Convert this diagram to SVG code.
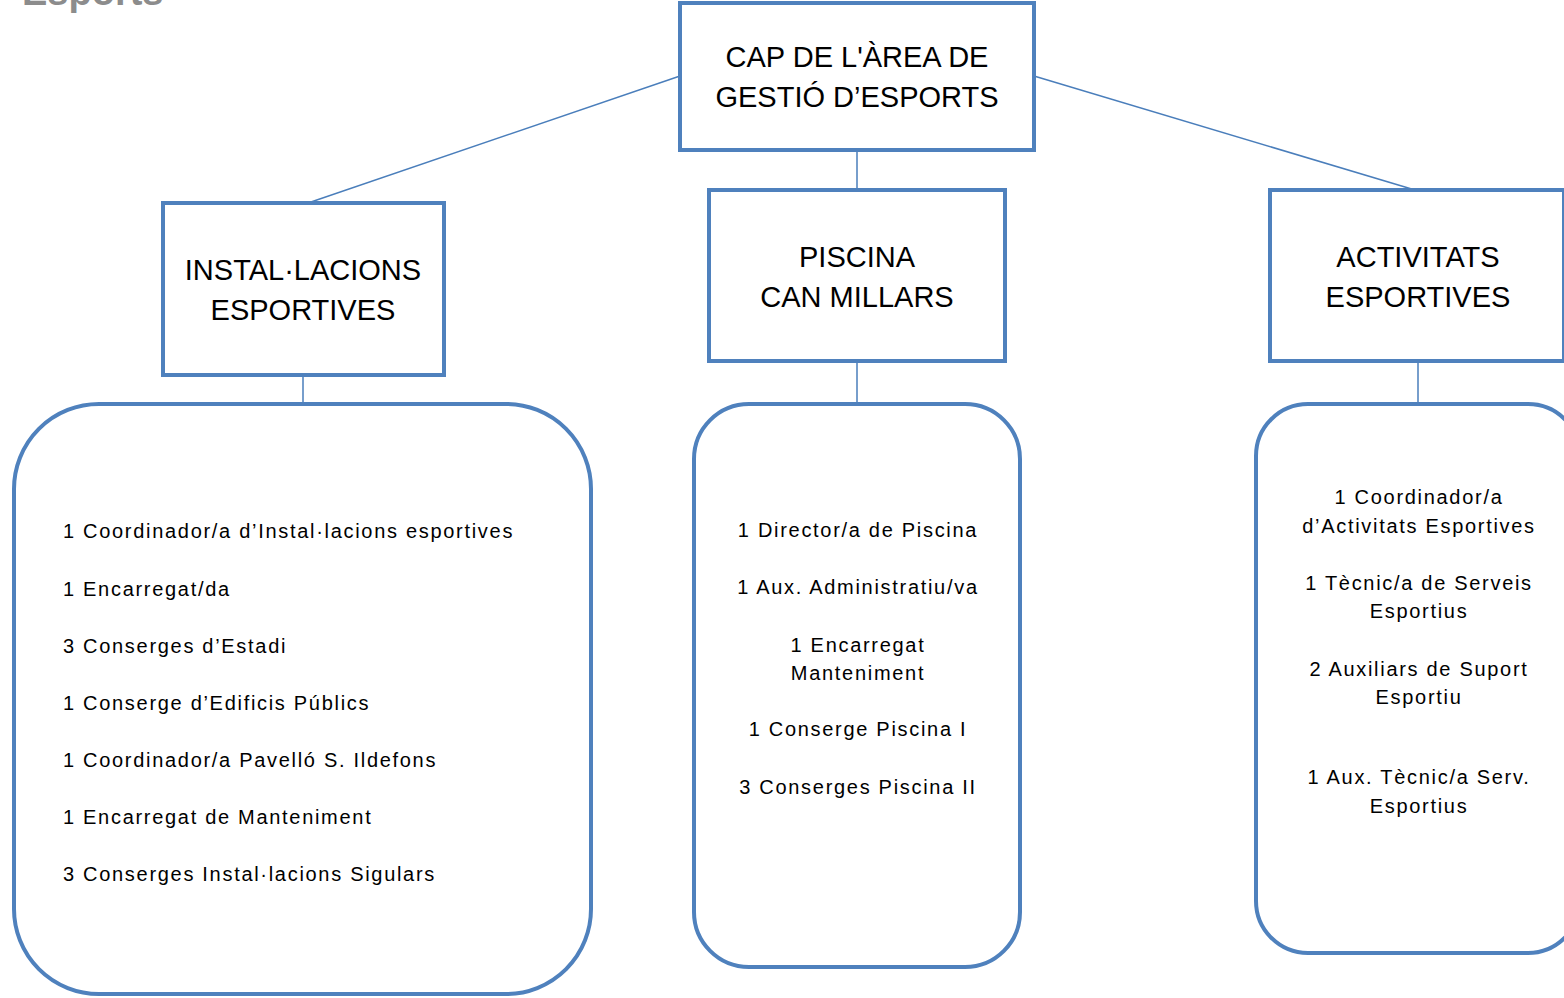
<svg xmlns="http://www.w3.org/2000/svg" width="1564" height="998" viewBox="0 0 1564 998">
<style>
.box{fill:#ffffff;stroke:#4f81bd;stroke-width:4}
.conn{stroke:#4a7ebb;stroke-width:1.5;fill:none}
.h{font-family:"Liberation Sans",Arial,sans-serif;font-size:29px;fill:#000;text-anchor:middle}
.t{font-family:"Liberation Sans",Arial,sans-serif;font-size:20px;fill:#000;letter-spacing:1.7px}
.c{text-anchor:middle}
.title{font-family:"Liberation Sans",Arial,sans-serif;font-size:38px;font-weight:bold;fill:#8c8c8c}
</style>
<rect width="1564" height="998" fill="#ffffff"/>
<text class="title" x="22" y="5">Esports</text>
<g id="connectors">
<line class="conn" x1="680" y1="76" x2="308" y2="203"/>
<line class="conn" x1="1034" y1="76" x2="1415" y2="190"/>
<line class="conn" x1="857" y1="150" x2="857" y2="190"/>
<line class="conn" x1="303" y1="375" x2="303" y2="404"/>
<line class="conn" x1="857" y1="361" x2="857" y2="404"/>
<line class="conn" x1="1418" y1="361" x2="1418" y2="404"/>
</g>
<g id="cap">
<rect class="box" x="680" y="3" width="354" height="147"/>
<text class="h" x="857" y="67">CAP DE L'ÀREA DE</text>
<text class="h" x="857" y="107">GESTIÓ D’ESPORTS</text>
</g>
<g id="instal">
<rect class="box" x="163" y="203" width="281" height="172"/>
<text class="h" x="303" y="280">INSTAL·LACIONS</text>
<text class="h" x="303" y="320">ESPORTIVES</text>
</g>
<g id="piscina">
<rect class="box" x="709" y="190" width="296" height="171"/>
<text class="h" x="857" y="267">PISCINA</text>
<text class="h" x="857" y="307">CAN MILLARS</text>
</g>
<g id="activitats">
<rect class="box" x="1270" y="190" width="294" height="171"/>
<text class="h" x="1418" y="267">ACTIVITATS</text>
<text class="h" x="1418" y="307">ESPORTIVES</text>
</g>
<g id="instal-staff">
<rect class="box" x="14" y="404" width="577" height="590" rx="85" ry="85"/>
<text class="t" x="63" y="538">1 Coordinador/a d’Instal·lacions esportives</text>
<text class="t" x="63" y="596">1 Encarregat/da</text>
<text class="t" x="63" y="653">3 Conserges d’Estadi</text>
<text class="t" x="63" y="710">1 Conserge d’Edificis Públics</text>
<text class="t" x="63" y="767">1 Coordinador/a Pavelló S. Ildefons</text>
<text class="t" x="63" y="824">1 Encarregat de Manteniment</text>
<text class="t" x="63" y="881">3 Conserges Instal·lacions Sigulars</text>
</g>
<g id="piscina-staff">
<rect class="box" x="694" y="404" width="326" height="563" rx="55" ry="55"/>
<text class="t c" x="858" y="537">1 Director/a de Piscina</text>
<text class="t c" x="858" y="594">1 Aux. Administratiu/va</text>
<text class="t c" x="858" y="652">1 Encarregat</text>
<text class="t c" x="858" y="680">Manteniment</text>
<text class="t c" x="858" y="736">1 Conserge Piscina I</text>
<text class="t c" x="858" y="794">3 Conserges Piscina II</text>
</g>
<g id="activitats-staff">
<rect class="box" x="1256" y="404" width="324" height="549" rx="52" ry="52"/>
<text class="t c" x="1419" y="504">1 Coordinador/a</text>
<text class="t c" x="1419" y="533">d’Activitats Esportives</text>
<text class="t c" x="1419" y="590">1 Tècnic/a de Serveis</text>
<text class="t c" x="1419" y="618">Esportius</text>
<text class="t c" x="1419" y="676">2 Auxiliars de Suport</text>
<text class="t c" x="1419" y="704">Esportiu</text>
<text class="t c" x="1419" y="784">1 Aux. Tècnic/a Serv.</text>
<text class="t c" x="1419" y="813">Esportius</text>
</g>
</svg>
